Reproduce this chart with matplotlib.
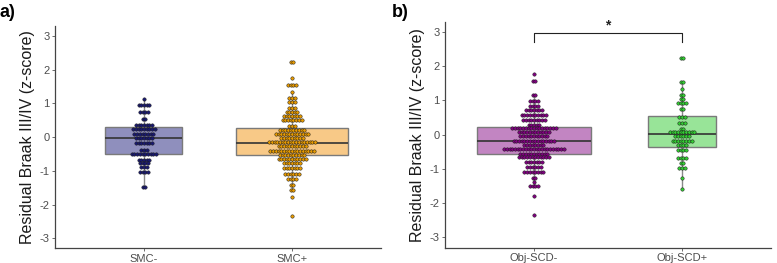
import numpy as np
import matplotlib
matplotlib.use("Agg")
import matplotlib.pyplot as plt

plt.rcParams['font.family'] = ['Liberation Sans', 'DejaVu Sans']

# ---------------- data ----------------
# dot-plot bins: bin centre value and number of dots in that bin
smc_neg_vals = [1.14, 0.94, 0.75, 0.55, 0.36, 0.23, 0.10, -0.04, -0.18, -0.37, -0.49, -0.69, -0.76, -0.90, -1.03, -1.49]
smc_neg_counts = [1, 5, 4, 2, 7, 9, 8, 7, 7, 3, 10, 5, 4, 3, 4, 2]

smc_pos_vals = [2.23, 1.76, 1.54, 1.34, 1.15, 1.03, 0.87, 0.76, 0.64, 0.51, 0.32, 0.22, 0.09, -0.03,
                -0.15, -0.27, -0.40, -0.52, -0.65, -0.78, -0.91, -1.08, -1.25, -1.42, -1.56, -1.78, -2.33]
smc_pos_counts = [2, 1, 4, 1, 3, 3, 3, 5, 7, 8, 3, 10, 13, 9,
                  18, 11, 17, 10, 11, 7, 7, 6, 4, 2, 2, 1, 1]

obj_neg_vals = [1.78, 1.56, 1.17, 0.97, 0.83, 0.73, 0.58, 0.44, 0.29, 0.19, 0.07, -0.05,
                -0.18, -0.29, -0.42, -0.55, -0.66, -0.80, -0.94, -1.09, -1.25, -1.39, -1.49, -1.80, -2.34]
obj_neg_counts = [1, 2, 2, 4, 4, 7, 10, 9, 5, 17, 12, 11,
                  16, 8, 23, 11, 12, 7, 6, 8, 2, 1, 4, 1, 1]

obj_pos_vals = [2.24, 1.53, 1.34, 1.17, 1.05, 0.93, 0.76, 0.52, 0.34, 0.18, 0.07, -0.05,
                -0.17, -0.29, -0.44, -0.69, -0.83, -0.96, -1.27, -1.59]
obj_pos_counts = [2, 2, 1, 2, 2, 4, 2, 3, 3, 2, 10, 6,
                  8, 4, 4, 4, 2, 3, 1, 1]

# box statistics: lower whisker, Q1, median, Q3, upper whisker
smc_neg_box = [-1.49, -0.49, -0.04, 0.29, 1.14]
smc_pos_box = [-1.56, -0.53, -0.16, 0.27, 1.34]
obj_neg_box = [-1.49, -0.565, -0.195, 0.225, 1.17]
obj_pos_box = [-1.59, -0.35, 0.02, 0.55, 1.53]

panel_a_cats = ["SMC-", "SMC+"]
panel_b_cats = ["Obj-SCD-", "Obj-SCD+"]
y_ticks = [-3, -2, -1, 0, 1, 2, 3]
y_label = "Residual Braak III/IV (z-score)"

# ---------------- styling ----------------
W, H, DPI = 7.77, 2.63, 100
fig = plt.figure(figsize=(W, H), dpi=DPI)

ax_a = fig.add_axes([55/777, 1-248.3/263, (381-55)/777, (248.3-26)/263])
ax_b = fig.add_axes([445/777, 1-247.7/263, (771-445)/777, (247.7-21.7)/263])

grey_txt = "#4d4d4d"
dot_px = 2.7   # spacing between stacked dots in pixels


def draw_group(ax, xpos, vals, counts, box, width, box_fc, dot_fc):
    lo, q1, med, q3, hi = box
    stats = [dict(whislo=lo, q1=q1, med=med, q3=q3, whishi=hi, fliers=[])]
    ax.bxp(stats, positions=[xpos], widths=width, showfliers=False, showcaps=False,
           patch_artist=True, manage_ticks=False,
           boxprops=dict(facecolor=box_fc, edgecolor="#7a7a7a", linewidth=1.0),
           whiskerprops=dict(color="#8a8a8a", linewidth=1.0),
           medianprops=dict(color="#333333", linewidth=1.2), zorder=2)
    ax_w_px = ax.get_position().width * W * DPI
    xr = ax.get_xlim()[1] - ax.get_xlim()[0]
    step = dot_px * xr / ax_w_px
    xs, ys = [], []
    for v, c in zip(vals, counts):
        offs = (np.arange(c) - (c - 1) / 2.0) * step
        xs.extend(xpos + offs)
        ys.extend([v] * c)
    ax.scatter(xs, ys, s=6.0, facecolor=dot_fc, edgecolor="#1a1a1a", linewidth=0.35, zorder=3)


def style_axes(ax, cats):
    ax.set_xlim(0.4, 2.6)
    ax.set_ylim(-3.3, 3.3)
    for s in ["top", "right"]:
        ax.spines[s].set_visible(False)
    for s in ["left", "bottom"]:
        ax.spines[s].set_color("#444444")
        ax.spines[s].set_linewidth(0.9)
    ax.set_ylabel(y_label, fontsize=11.5, color="#1a1a1a", labelpad=3)


def finish_ticks(ax, cats):
    ax.set_xticks([1, 2])
    ax.set_xticklabels(cats)
    ax.set_yticks(y_ticks)
    ax.set_yticklabels([str(t) for t in y_ticks])
    ax.tick_params(axis="both", colors="#555555", labelcolor=grey_txt, labelsize=8,
                   length=2.5, width=0.6, pad=1.5)
    ax.set_xlim(0.4, 2.6)
    ax.set_ylim(-3.3, 3.3)


style_axes(ax_a, panel_a_cats)
style_axes(ax_b, panel_b_cats)

draw_group(ax_a, 1, smc_neg_vals, smc_neg_counts, smc_neg_box, 0.52, "#8f8fbd", "#191970")
draw_group(ax_a, 2, smc_pos_vals, smc_pos_counts, smc_pos_box, 0.76, "#f8c987", "#e69a00")
draw_group(ax_b, 1, obj_neg_vals, obj_neg_counts, obj_neg_box, 0.77, "#c285c2", "#800080")
draw_group(ax_b, 2, obj_pos_vals, obj_pos_counts, obj_pos_box, 0.46, "#98e498", "#32cd32")

finish_ticks(ax_a, panel_a_cats)
finish_ticks(ax_b, panel_b_cats)

# significance bracket
ax_b.plot([1, 1, 2, 2], [2.72, 2.98, 2.98, 2.72], color="#222222", linewidth=0.8, zorder=4)
ax_b.text(1.5, 3.0, "*", ha="center", va="bottom", fontsize=10, fontweight="bold", color="#222222")

# panel labels
fig.text(0.0, 0.985, "a)", fontsize=13, fontweight="bold", ha="left", va="top")
fig.text(392/777, 0.985, "b)", fontsize=13, fontweight="bold", ha="left", va="top")

fig.savefig("out.png", dpi=DPI)
